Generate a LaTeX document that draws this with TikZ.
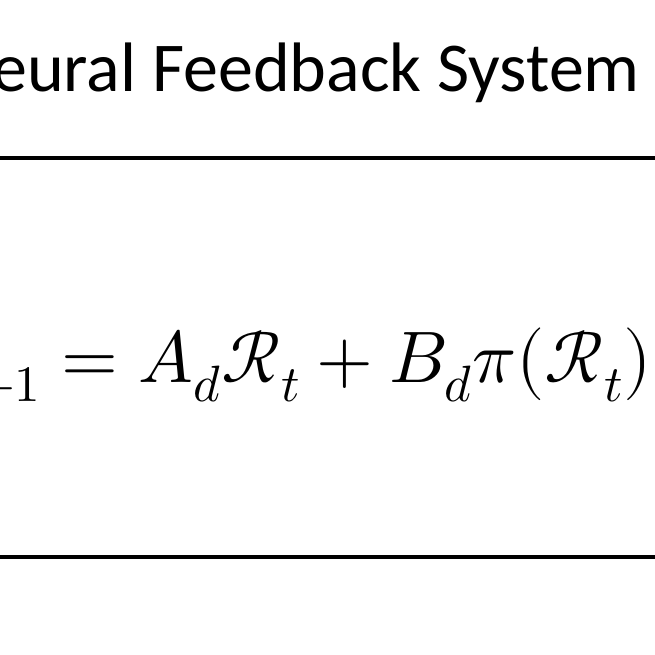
\documentclass[tikz,border=0pt]{standalone}
\usepackage{fontspec}
\usepackage{unicode-math}
\setmainfont{Carlito}
\setmathfont{Latin Modern Math}
\begin{document}
\begin{tikzpicture}[x=1pt,y=1pt,
  rule/.style={line width=4pt},
  title/.style={font=\fontsize{70}{74}\selectfont, anchor=base east, inner sep=0},
  eq/.style={font=\fontsize{73}{78}\selectfont, anchor=base east, inner sep=0}]
\useasboundingbox (0,0) rectangle (655,655);
\clip (0,0) rectangle (655,655);
\fill[white] (0,0) rectangle (655,655);
\node[title] (t) at (640,563) {Neural Feedback System};
\coordinate (tl) at (-10,497);
\coordinate (tr) at (665,497);
\coordinate (bl) at (-10,98);
\coordinate (br) at (665,98);
\draw[rule] (tl) -- (tr);
\draw[rule] (bl) -- (br);
\node[eq] (e) at (652,272) {$\mathcal{R}_{t+1} = A_d\mathcal{R}_t + B_d\pi(\mathcal{R}_t)$};
\end{tikzpicture}
\end{document}
